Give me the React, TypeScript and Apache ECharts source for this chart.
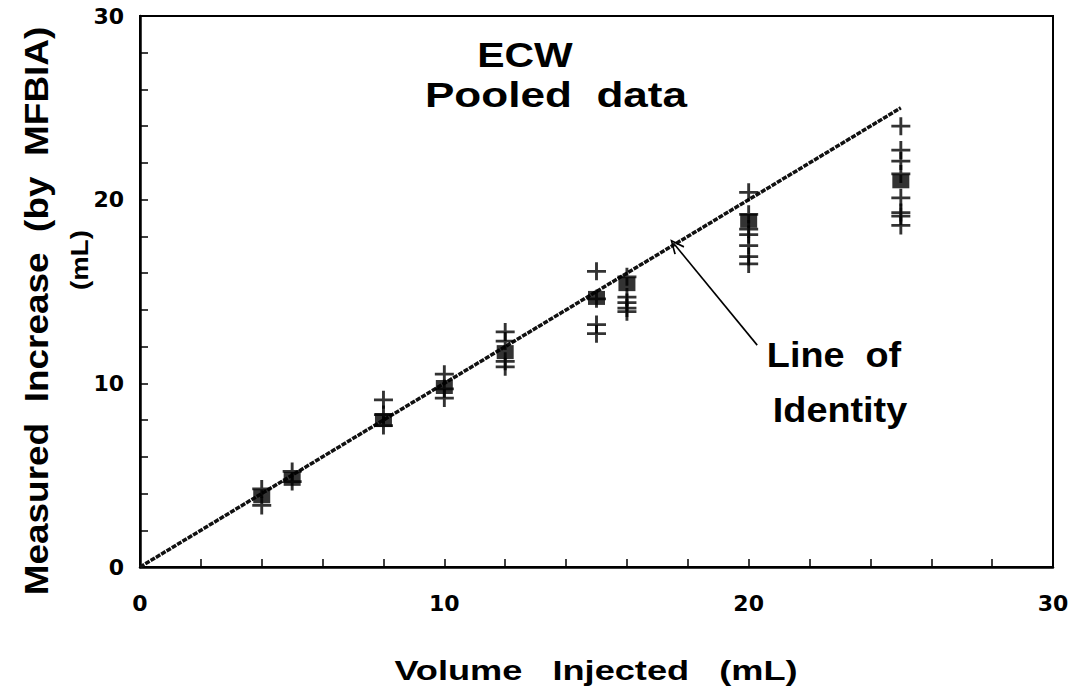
import React, { useEffect, useRef } from "react";
import * as echarts from "echarts";

// Injected volumes (mL) for each cluster
const volumes = [4, 5, 8, 10, 12, 15, 16, 20, 25];
// Individual measurements (plotted as "+")
const crossValues = [
  [4.25, 3.35],
  [5.2, 4.65],
  [9.1, 8.3, 7.7],
  [10.5, 9.7, 9.2],
  [12.8, 12.3, 11.2, 10.9],
  [16.1, 14.6, 13.2, 12.7],
  [15.8, 14.7, 14.4, 14.1, 13.9],
  [20.4, 19.2, 18.4, 18.1, 17.5, 16.9, 16.5],
  [24.0, 22.7, 22.1, 21.4, 20.1, 19.3, 19.1, 18.6],
];
// Filled squares
const squareValues = [3.85, 4.8, 8.0, 9.8, 11.7, 14.65, 15.4, 18.85, 21.0];
// Line of identity endpoints
const identityLine = [
  [0, 0],
  [25, 25],
];
// Annotation arrow (data coordinates)
const arrowFrom = [20.28, 12.08];
const arrowTo = [17.58, 17.53];

const xTitle = "Volume   Injected   (mL)";
const yTitle = "Measured  Increase  (by  MFBIA)";
const yUnit = "(mL)";
const title1 = "ECW";
const title2 = "Pooled  data";
const note1 = "Line  of";
const note2 = "Identity";

const FONT = "'Liberation Sans', Arial, Helvetica, sans-serif";
const NUMFONT = "'DejaVu Sans', 'Liberation Sans', sans-serif";

const crossPath =
  "path://M7.8,0 L10.6,0 L10.6,7.8 L18.4,7.8 L18.4,10.6 L10.6,10.6 L10.6,18.4 L7.8,18.4 L7.8,10.6 L0,10.6 L0,7.8 L7.8,7.8 Z";
const chevronPath = "path://M0,0 L6,12 L4.6,12.7 L0,3.2 L-4.6,12.7 L-6,12 Z";

export default function App() {
  const ref = useRef<HTMLDivElement>(null);

  useEffect(() => {
    if (!ref.current) return;
    const chart = echarts.init(ref.current, null, { renderer: "svg" });

    const crossData: number[][] = [];
    volumes.forEach((v, i) => crossValues[i].forEach((y) => crossData.push([v, y])));
    const squareData = volumes.map((v, i) => [v, squareValues[i]]);

    const axisLabelBase = {
      color: "#000",
      fontFamily: NUMFONT,
      fontWeight: "bold" as const,
      fontSize: 22,
    };

    const textStyle = (size: number) => ({
      fill: "#000",
      font: `bold ${size}px ${FONT}`,
      textAlign: "center",
      textVerticalAlign: "middle",
    });

    chart.setOption({
      animation: false,
      backgroundColor: "#fff",
      grid: {
        left: 140,
        right: 21,
        top: 16,
        bottom: 133,
        show: true,
        borderColor: "#000",
        borderWidth: 2,
      },
      xAxis: {
        type: "value",
        min: 0,
        max: 30,
        interval: 10,
        axisLine: { show: true, onZero: false, lineStyle: { color: "#000", width: 2.5 } },
        axisTick: { show: true, inside: true, length: 8, lineStyle: { color: "#000", width: 1.5 } },
        minorTick: { show: true, splitNumber: 5, length: 8, lineStyle: { color: "#000", width: 1.5 } },
        splitLine: { show: false },
        axisLabel: { ...axisLabelBase, margin: 25 },
      },
      yAxis: {
        type: "value",
        min: 0,
        max: 30,
        interval: 10,
        axisLine: { show: true, onZero: false, lineStyle: { color: "#000", width: 2.5 } },
        axisTick: { show: true, inside: true, length: 8, lineStyle: { color: "#000", width: 1.5 } },
        minorTick: { show: true, splitNumber: 5, length: 8, lineStyle: { color: "#000", width: 1.5 } },
        splitLine: { show: false },
        axisLabel: { ...axisLabelBase, margin: 16, align: "right" },
      },
      series: [
        {
          type: "line",
          data: identityLine,
          showSymbol: false,
          silent: true,
          z: 1,
          lineStyle: { color: "#111", width: 3.5, type: [5, 1.2] },
          markLine: {
            silent: true,
            symbol: ["none", chevronPath],
            symbolSize: [13, 15],
            label: { show: false },
            lineStyle: { color: "#000", width: 1.6, type: "solid" },
            data: [[{ coord: arrowFrom }, { coord: arrowTo }]],
          },
        },
        {
          type: "scatter",
          data: crossData,
          symbol: crossPath,
          symbolSize: [19, 18],
          itemStyle: { color: "#000" },
          z: 3,
        },
        {
          type: "scatter",
          data: squareData,
          symbol: "rect",
          symbolSize: [17, 14],
          itemStyle: { color: "#000" },
          z: 4,
        },
      ],
      graphic: [
        { type: "text", x: 525, y: 55, scaleX: 1.17, style: { text: title1, ...textStyle(35) } },
        { type: "text", x: 556, y: 95, scaleX: 1.26, style: { text: title2, ...textStyle(35) } },
        { type: "text", x: 834, y: 355, scaleX: 1.08, style: { text: note1, ...textStyle(35) } },
        { type: "text", x: 840, y: 410, scaleX: 1.08, style: { text: note2, ...textStyle(35) } },
        { type: "text", x: 596, y: 671, scaleX: 1.34, style: { text: xTitle, ...textStyle(27) } },
        {
          type: "text",
          x: 36,
          y: 311,
          rotation: Math.PI / 2,
          scaleX: 1.12,
          style: { text: yTitle, ...textStyle(33) },
        },
        {
          type: "text",
          x: 80,
          y: 260,
          rotation: Math.PI / 2,
          scaleX: 1.2,
          style: { text: yUnit, ...textStyle(23) },
        },
      ],
    });

    return () => chart.dispose();
  }, []);

  return (
    <div
      ref={ref}
      style={{ position: "absolute", left: 0, top: 0, width: 1074, height: 700, background: "#fff" }}
    />
  );
}
